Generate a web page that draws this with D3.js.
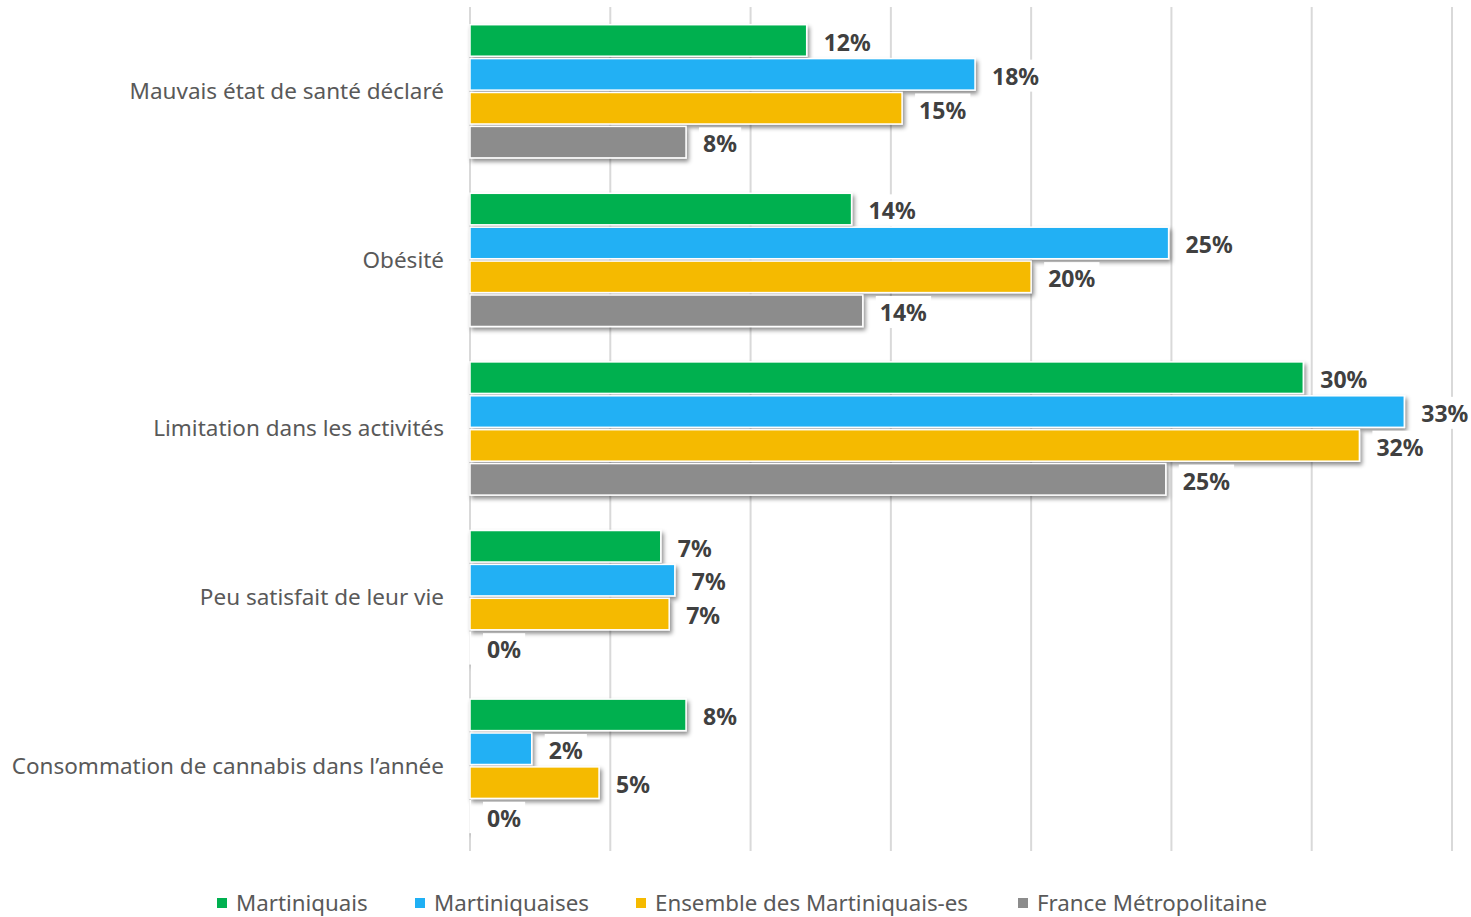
<!DOCTYPE html>
<html>
<head>
<meta charset="utf-8">
<script src="https://cdn.jsdelivr.net/npm/d3@7"></script>
<style>
  body { margin: 0; background: #fff; }
  #vis { width: 1471px; height: 917px; }
  text { font-family: "Noto Sans", "Open Sans", sans-serif; }
</style>
</head>
<body>
<div id="vis"></div>
<script>
// data
var categories = [
  "Mauvais état de santé déclaré",
  "Obésité",
  "Limitation dans les activités",
  "Peu satisfait de leur vie",
  "Consommation de cannabis dans l’année"
];
var seriesNames = ["Martiniquais", "Martiniquaises", "Ensemble des Martiniquais-es", "France Métropolitaine"];
var martiniquais = [0.120, 0.136, 0.297, 0.068, 0.077];
var martiniquaises = [0.180, 0.249, 0.333, 0.073, 0.022];
var ensemble = [0.154, 0.200, 0.317, 0.071, 0.046];
var france = [0.077, 0.140, 0.248, 0, 0];
var xTicks = [0, 0.05, 0.10, 0.15, 0.20, 0.25, 0.30, 0.35];
var colours = ["#00B050", "#20B0F4", "#F5BA00", "#8C8C8C"];

var width = 1471, height = 917;
var margin = { top: 7, left: 470, right: 19, bottom: 67 };

var svg = d3.select('#vis')
  .append('svg')
  .attr('width', width)
  .attr('height', height);

var defs = svg.append('defs');
var shadow = defs.append('filter')
  .attr('id', 'shadow')
  .attr('x', '-10%').attr('y', '-30%')
  .attr('width', '130%').attr('height', '190%');
shadow.append('feDropShadow')
  .attr('dx', 2).attr('dy', 3)
  .attr('stdDeviation', 2)
  .attr('flood-color', '#000')
  .attr('flood-opacity', 0.45);

var x_scale = d3.scaleLinear()
  .domain([0, 0.35])
  .range([margin.left, width - margin.right]);

var y_scale = d3.scaleBand()
  .domain(categories)
  .range([margin.top, height - margin.bottom])
  .paddingInner(0.21)
  .paddingOuter(0.105);

var y_inner = d3.scaleBand()
  .domain(seriesNames)
  .range([0, y_scale.bandwidth()])
  .paddingInner(0.07);

// grid lines
svg.append('g')
  .selectAll('line')
  .data(xTicks)
  .enter()
  .append('line')
  .attr('x1', function(d) { return x_scale(d); })
  .attr('x2', function(d) { return x_scale(d); })
  .attr('y1', margin.top)
  .attr('y2', height - margin.bottom + 1)
  .attr('stroke', '#D9D9D9')
  .attr('stroke-width', 2);

// category labels
svg.append('g')
  .selectAll('text')
  .data(categories)
  .enter()
  .append('text')
  .attr('x', margin.left - 26)
  .attr('y', function(d) { return y_scale(d) + y_scale.bandwidth() / 2; })
  .attr('dy', '0.35em')
  .attr('text-anchor', 'end')
  .attr('fill', '#595959')
  .style('font-size', '22.5px')
  .text(function(d) { return d; });

var series = [martiniquais, martiniquaises, ensemble, france].map(function(vals, i) {
  return {
    name: seriesNames[i],
    colour: colours[i],
    values: vals.map(function(v, j) { return { cat: categories[j], value: v }; })
  };
});

var fmt = d3.format('.0%');

var groups = svg.selectAll('.series')
  .data(series)
  .enter()
  .append('g')
  .attr('class', 'series');

groups.selectAll('rect')
  .data(function(s) { return s.values.map(function(v) { return { s: s, cat: v.cat, value: v.value }; }); })
  .enter()
  .append('rect')
  .attr('x', x_scale(0))
  .attr('y', function(d) { return y_scale(d.cat) + y_inner(d.s.name); })
  .attr('width', function(d) { return Math.max(0.5, x_scale(d.value) - x_scale(0)); })
  .attr('height', y_inner.bandwidth())
  .attr('fill', function(d) { return d.s.colour; })
  .attr('stroke', '#fff')
  .attr('stroke-width', 1.5)
  .attr('filter', 'url(#shadow)');

// value labels
var labels = groups.selectAll('.lab')
  .data(function(s) { return s.values.map(function(v) { return { s: s, cat: v.cat, value: v.value }; }); })
  .enter()
  .append('g')
  .attr('class', 'lab')
  .attr('transform', function(d) {
    return 'translate(' + (x_scale(d.value) + 12) + ',' + (y_scale(d.cat) + y_inner(d.s.name) + y_inner.bandwidth() / 2 + 2) + ')';
  });

var bg = labels.append('rect')
  .attr('fill', '#fff');

var labText = labels.append('text')
  .attr('x', 5)
  .attr('dy', '0.36em')
  .attr('fill', '#404040')
  .style('font-size', '23px')
  .style('font-weight', 'bold')
  .text(function(d) { return fmt(d.value); });

labText.each(function() {
  var b = this.getBBox();
  d3.select(this.previousSibling)
    .attr('x', b.x - 4)
    .attr('y', b.y)
    .attr('width', b.width + 8)
    .attr('height', b.height);
});

// legend
var legendX = [217, 415, 636, 1018];
var legend = svg.append('g')
  .selectAll('g')
  .data(series)
  .enter()
  .append('g')
  .attr('transform', function(d, i) { return 'translate(' + legendX[i] + ',903)'; });

legend.append('rect')
  .attr('x', 0)
  .attr('y', -5)
  .attr('width', 10)
  .attr('height', 10)
  .attr('fill', function(d) { return d.colour; });

legend.append('text')
  .attr('x', 19)
  .attr('dy', '0.35em')
  .attr('fill', '#595959')
  .style('font-size', '22.3px')
  .text(function(d) { return d.name; });
</script>
</body>
</html>
